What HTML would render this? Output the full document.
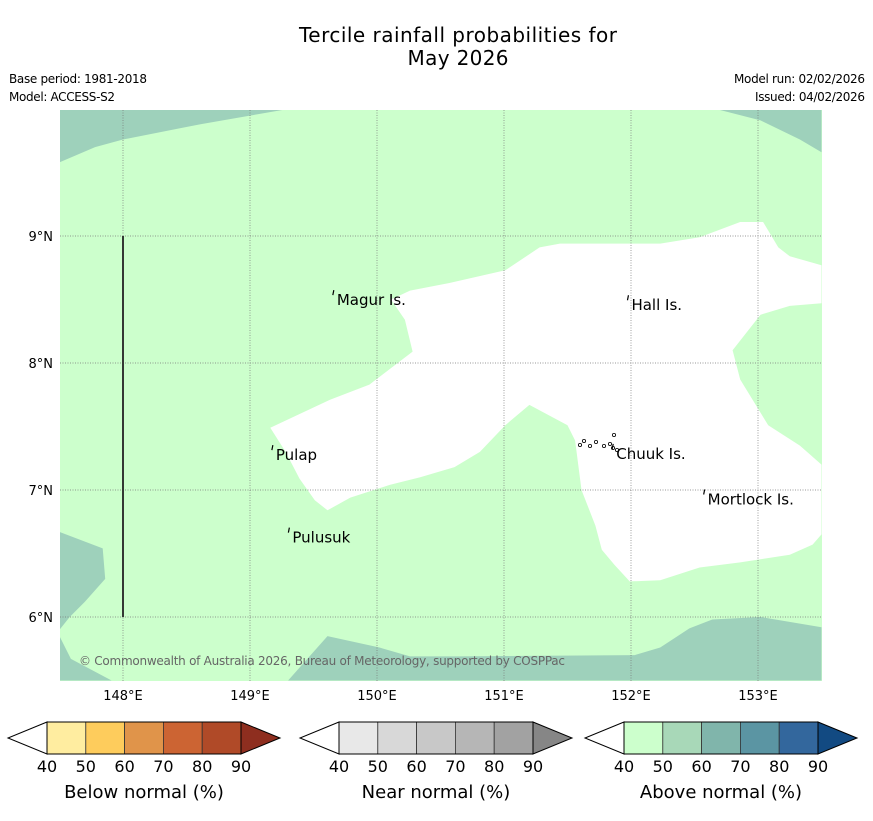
<!DOCTYPE html>
<html><head><meta charset="utf-8"><style>
body{margin:0;background:#fff;}
svg text{font-family:"DejaVu Sans","Liberation Sans",sans-serif;}
</style></head><body>
<svg id="chart" width="873" height="816" viewBox="0 0 873 816" xmlns="http://www.w3.org/2000/svg">
<text x="458" y="42" text-anchor="middle" font-size="20" textLength="318">Tercile rainfall probabilities for</text>
<text x="458" y="65" text-anchor="middle" font-size="20" textLength="101">May 2026</text>
<text x="9" y="83" font-size="12" textLength="138">Base period: 1981-2018</text>
<text x="9" y="101" font-size="12" textLength="106">Model: ACCESS-S2</text>
<text x="865" y="83" font-size="12" text-anchor="end" textLength="131">Model run: 02/02/2026</text>
<text x="865" y="101" font-size="12" text-anchor="end" textLength="110">Issued: 04/02/2026</text>
<defs><clipPath id="mapclip"><rect x="60" y="110" width="762" height="571"/></clipPath></defs>
<g id="map" clip-path="url(#mapclip)"></g>
<g id="axes"></g>
<g id="cbars"></g>
</svg>
<script>
const lonTicks=[148,149,150,151,152,153];
const latTicks=[6,7,8,9];
const whiteRegion=[149.16,7.49,149.63,7.71,149.94,7.83,150.28,8.09,150.22,8.34,150.11,8.50,150.26,8.57,150.57,8.63,151.01,8.73,151.28,8.91,151.44,8.94,152.23,8.94,152.54,8.99,152.86,9.11,153.04,9.11,153.16,8.91,153.25,8.84,153.50,8.77,153.50,8.47,153.25,8.45,153.02,8.38,152.80,8.10,152.86,7.87,153.08,7.51,153.33,7.35,153.50,7.20,153.50,6.65,153.43,6.57,153.25,6.49,152.86,6.43,152.54,6.39,152.23,6.29,151.99,6.28,151.87,6.41,151.77,6.53,151.72,6.72,151.61,7.00,151.56,7.39,151.50,7.51,151.20,7.67,151.01,7.51,150.81,7.30,150.61,7.18,150.34,7.10,150.10,7.04,149.79,6.94,149.61,6.84,149.51,6.92,149.39,7.09,149.28,7.30];
const tealTopLeft=[147.5,10.0,149.30,10.0,148.61,9.88,148.0,9.76,147.78,9.70,147.5,9.58];
const tealTopRight=[152.67,10.0,153.5,10.0,153.5,9.66,153.33,9.76,153.02,9.91];
const tealLeft=[147.5,6.67,147.84,6.54,147.86,6.30,147.70,6.12,147.58,6.0,147.5,5.90];
const tealBottomLeft=[147.5,5.85,147.59,5.67,147.91,5.5,147.5,5.5];
const tealBottom=[149.30,5.5,149.61,5.85,150.02,5.76,150.26,5.69,150.65,5.69,152.03,5.70,152.23,5.76,152.46,5.91,152.64,5.98,153.02,6.0,153.5,5.92,153.5,5.5];
const places=["Magur Is.","Hall Is.","Pulap","Chuuk Is.","Mortlock Is.","Pulusuk"];
const placeLon=[149.66,151.98,149.18,151.86,152.58,149.31];
const placeLat=[8.55,8.51,7.33,7.34,6.98,6.68];
const cbTicks=[40,50,60,70,80,90];
const cbBelow=["#ffeda0","#fecc5c","#e0944a","#cc6433","#b04a28","#8e2e1f"];
const cbNear=["#e8e8e8","#d8d8d8","#c8c8c8","#b6b6b6","#a2a2a2","#868686"];
const cbAbove=["#ccffcc","#a8d8b8","#80b5ab","#5b95a3","#33679d","#124a82"];
const cbTitles=["Below normal (%)","Near normal (%)","Above normal (%)"];

const NS="http://www.w3.org/2000/svg";
const X=lon=>123+(lon-148)*127, Y=lat=>236-(lat-9)*127;
function mk(tag,attrs,parent){const e=document.createElementNS(NS,tag);for(const k in attrs)e.setAttribute(k,attrs[k]);parent.appendChild(e);return e;}
const map=document.getElementById('map'),axes=document.getElementById('axes'),cb=document.getElementById('cbars');
let bg=mk('rect',{x:60,y:110,width:762,height:571,fill:'#ccffcc'},map);


function poly(arr,fill,name){const pts=[];for(let i=0;i<arr.length;i+=2)pts.push(X(arr[i]).toFixed(1)+','+Y(arr[i+1]).toFixed(1));
 const p=mk('polygon',{points:pts.join(' '),fill:fill},map);
 
 }
poly(whiteRegion,'#ffffff','below-40-region');
poly(tealTopLeft,'#9ed1bb','above-50-60-top-left');
poly(tealTopRight,'#9ed1bb','above-50-60-top-right');
poly(tealLeft,'#9ed1bb','above-50-60-left');
poly(tealBottomLeft,'#9ed1bb','above-50-60-bottom-left');
poly(tealBottom,'#9ed1bb','above-50-60-bottom');
lonTicks.forEach(l=>{const g=mk('line',{x1:X(l),x2:X(l),y1:110,y2:681,stroke:'#777','stroke-width':0.7,'stroke-dasharray':'1,1.5'},map);
 
 
 const t=mk('text',{x:X(l),y:700,'text-anchor':'middle','font-size':13},axes);t.textContent=l+'°E';
 
 });
latTicks.forEach(l=>{const g=mk('line',{x1:60,x2:822,y1:Y(l),y2:Y(l),stroke:'#777','stroke-width':0.7,'stroke-dasharray':'1,1.5'},map);
 
 
 const t=mk('text',{x:53,y:Y(l)+5,'text-anchor':'end','font-size':13},axes);t.textContent=l+'°N';
 
 });
let vl=mk('line',{x1:X(148),x2:X(148),y1:Y(9),y2:Y(6),stroke:'#222','stroke-width':1.8},map);


places.forEach((n,i)=>{const px=X(placeLon[i]),py=Y(placeLat[i]);
 const m=mk('path',{d:`M${px} ${py-3}l-1 5`,stroke:'#000','stroke-width':1.2,fill:'none'},map);
 
 
 const t=mk('text',{x:px+3,y:py+12,'font-size':15},map);t.textContent=n;
 
 });
[[580,445],[584,441],[590,446],[596,442],[604,446],[610,444],[614,435],[613,448],[617,450]].forEach(p=>{
 const c=mk('circle',{cx:p[0],cy:p[1],r:1.6,fill:'none',stroke:'#000','stroke-width':0.8},map);
 
 });
let cp=mk('text',{x:79,y:665,'font-size':12,fill:'#666',textLength:486},map);cp.textContent='© Commonwealth of Australia 2026, Bureau of Meteorology, supported by COSPPac';


const cbX=[47,339,624];
[cbBelow,cbNear,cbAbove].forEach((cols,k)=>{
 const x0=cbX[k],w=38.8,y0=722,h=32;
 const g=mk('g',{},cb);
 
 
 const lt=mk('polygon',{points:`${x0},${y0} ${x0-39},${y0+h/2} ${x0},${y0+h}`,fill:'#fff',stroke:'#000','stroke-width':1},g);
 
 
 for(let i=0;i<5;i++){const r=mk('rect',{x:x0+i*w,y:y0,width:w,height:h,fill:cols[i],stroke:'#333','stroke-width':0.8},g);
  
  }
 const xe=x0+5*w;
 const rt=mk('polygon',{points:`${xe},${y0} ${xe+39},${y0+h/2} ${xe},${y0+h}`,fill:cols[5],stroke:'#000','stroke-width':1},g);
 
 
 const br=mk('rect',{x:x0,y:y0,width:5*w,height:h,fill:'none',stroke:'#000','stroke-width':1},g);
 
 
 cbTicks.forEach((v,i)=>{const t=mk('text',{x:x0+i*w,y:772,'text-anchor':'middle','font-size':16},g);t.textContent=v;
  
  });
 const tt=mk('text',{x:x0+2.5*w,y:798,'text-anchor':'middle','font-size':18},g);tt.textContent=cbTitles[k];
 
 
});
</script>
</body></html>
